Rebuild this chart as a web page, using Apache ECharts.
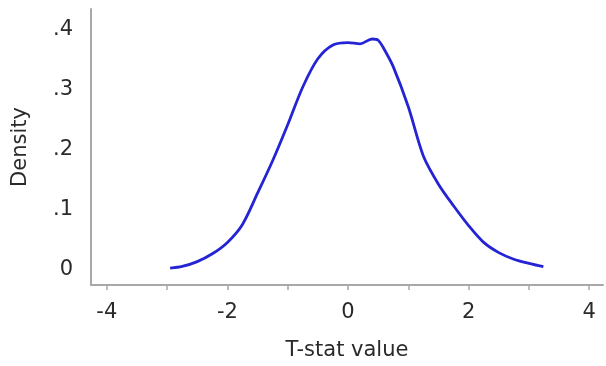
<!DOCTYPE html>
<html>
<head>
<meta charset="utf-8">
<script src="https://cdn.jsdelivr.net/npm/echarts@6/dist/echarts.min.js"></script>
<style>
html,body{margin:0;padding:0;background:#fff;}
#chart{width:606px;height:366px;}
</style>
</head>
<body>
<div id="chart"></div>
<script>
// T-stat values (x) and estimated density (y)
const tstat = [-2.95, -2.75, -2.5, -2.25, -2.0, -1.75, -1.5, -1.25, -1.0, -0.75, -0.5, -0.25, 0.0, 0.2, 0.4, 0.5, 0.6, 0.75, 1.0, 1.25, 1.5, 1.75, 2.0, 2.25, 2.5, 2.75, 3.0, 3.24];
const density = [0.003, 0.006, 0.014, 0.027, 0.046, 0.076, 0.128, 0.182, 0.242, 0.305, 0.352, 0.375, 0.379, 0.377, 0.385, 0.383, 0.368, 0.339, 0.272, 0.19, 0.143, 0.107, 0.074, 0.046, 0.029, 0.018, 0.011, 0.0055];
const xTicks = [-4, -3, -2, -1, 0, 1, 2, 3, 4];
const xLabels = [-4, -2, 0, 2, 4];
const yLabels = [0, 0.1, 0.2, 0.3, 0.4];
const xTitle = 'T-stat value';
const yTitle = 'Density';

const pts = tstat.map((x, i) => [x, density[i]]);
const font = 'DejaVu Sans';
const chart = echarts.init(document.getElementById('chart'), null, {renderer: 'canvas'});
chart.setOption({
  animation: false,
  backgroundColor: '#ffffff',
  grid: {left: 91, right: 3, top: 9, bottom: 81, containLabel: false},
  xAxis: {
    type: 'value', min: -4.262, max: 4.229,
    name: xTitle, nameLocation: 'middle', nameGap: 55,
    nameTextStyle: {fontFamily: font, fontSize: 21, color: '#2a2a2a'},
    axisLine: {show: true, onZero: false, lineStyle: {color: '#a8a8a8', width: 2}},
    axisTick: {show: true, customValues: xTicks, length: 5, lineStyle: {color: '#a8a8a8', width: 1.5}},
    axisLabel: {customValues: xLabels, margin: 17, fontFamily: font, fontSize: 21, color: '#2a2a2a',
      formatter: v => String(v)},
    splitLine: {show: false}
  },
  yAxis: {
    type: 'value', min: -0.025, max: 0.435,
    name: yTitle, nameLocation: 'middle', nameGap: 60, nameRotate: 90,
    nameTextStyle: {fontFamily: font, fontSize: 21, color: '#2a2a2a'},
    axisLine: {show: true, onZero: false, lineStyle: {color: '#a8a8a8', width: 2}},
    axisTick: {show: false},
    axisLabel: {customValues: yLabels, margin: 18, fontFamily: font, fontSize: 21, color: '#2a2a2a',
      formatter: v => v === 0 ? '0' : String(Math.round(v * 10) / 10).replace(/^0/, '')},
    splitLine: {show: false}
  },
  series: [{
    type: 'line', data: pts, smooth: 0.3, showSymbol: false,
    lineStyle: {color: '#2424d4', width: 2.8}
  }]
});
</script>
</body>
</html>
